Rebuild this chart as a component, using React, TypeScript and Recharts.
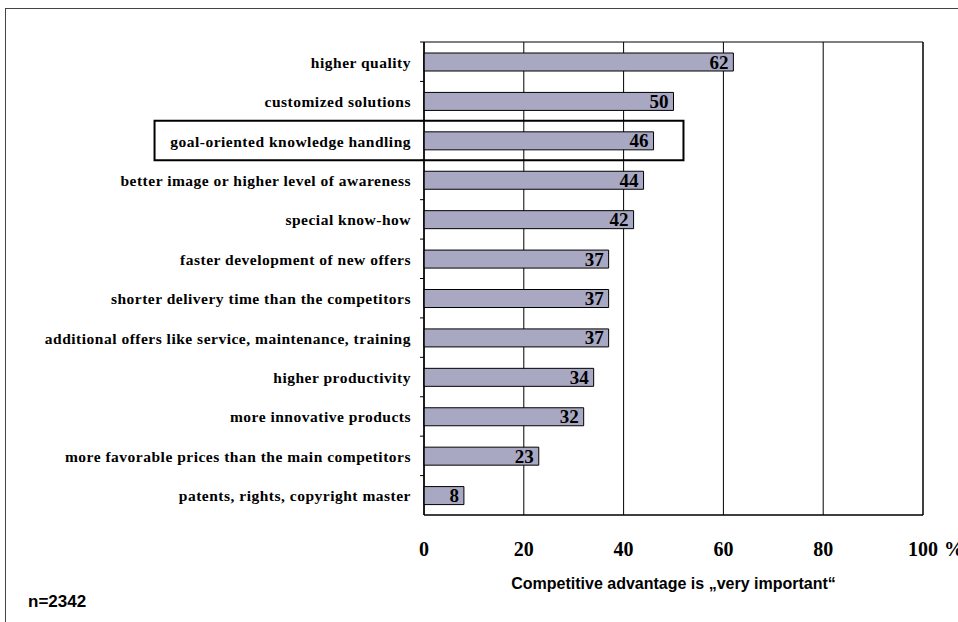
import React from 'react'
import {
  BarChart,
  Bar,
  XAxis,
  YAxis,
  CartesianGrid,
  LabelList,
  ReferenceArea,
  Label,
} from 'recharts'

const categories = [
  'higher quality',
  'customized solutions',
  'goal-oriented knowledge handling',
  'better image or higher level of awareness',
  'special know-how',
  'faster development of new offers',
  'shorter delivery time than the competitors',
  'additional offers like service, maintenance, training',
  'higher productivity',
  'more innovative products',
  'more favorable prices than the main competitors',
  'patents, rights, copyright master',
]

const veryImportant = [62, 50, 46, 44, 42, 37, 37, 37, 34, 32, 23, 8]

const xTicks = [0, 20, 40, 60, 80, 100]

const highlighted = 'goal-oriented knowledge handling'

const chartData = categories.map((name, i) => ({ name, value: veryImportant[i] }))

const SERIF = '"Liberation Serif", "Times New Roman", serif'
const SANS = '"Liberation Sans", Arial, sans-serif'
const LABEL_GAP = 13

function CategoryTick(props: any) {
  const { x, y, payload } = props
  const axisX = x + LABEL_GAP
  const half = payload.offset || 0
  return (
    <g>
      <line x1={axisX - 4} x2={axisX} y1={y - half} y2={y - half} stroke="#000" strokeWidth={1} />
      <text
        x={x}
        y={y}
        dy={6}
        textAnchor="end"
        fontFamily={SERIF}
        fontWeight="bold"
        fontSize={15.5}
        letterSpacing={0.5}
        fill="#000"
      >
        {payload.value}
      </text>
    </g>
  )
}

function PercentTick(props: any) {
  const { x, y, payload } = props
  return (
    <g>
      <text x={x} y={y} dy={14} textAnchor="middle" fontFamily={SERIF} fontWeight="bold" fontSize={20} fill="#000">
        {payload.value}
      </text>
      {payload.value === 100 && (
        <text x={x + 21} y={y} dy={14} textAnchor="start" fontFamily={SERIF} fontWeight="bold" fontSize={20} fill="#000">
          %
        </text>
      )}
    </g>
  )
}

function ValueLabel(props: any) {
  const { x, y, width, height, value } = props
  return (
    <text
      x={x + width - 5}
      y={y + height / 2}
      dy={6.5}
      textAnchor="end"
      fontFamily={SERIF}
      fontWeight="bold"
      fontSize={19}
      fill="#000"
    >
      {value}
    </text>
  )
}

export default function App() {
  return (
    <div style={{ position: 'absolute', left: 0, top: 0, width: 958, height: 622, background: '#fff' }}>
      <div
        style={{
          position: 'absolute',
          left: 5,
          top: 8,
          width: 953,
          height: 614,
          borderTop: '1px solid #444',
          borderLeft: '1px solid #444',
        }}
      />
      <BarChart
        width={958}
        height={622}
        data={chartData}
        layout="vertical"
        margin={{ top: 42, right: 35, bottom: 77, left: 0 }}
        barSize={18}
      >
        <CartesianGrid horizontal={false} vertical stroke="#000" strokeWidth={1} />
        <ReferenceArea x1={0} x2={100} fill="none" stroke="#000" strokeWidth={1} />
        <XAxis
          type="number"
          domain={[0, 100]}
          ticks={xTicks}
          tickLine={false}
          tickSize={0}
          tickMargin={27}
          height={30}
          axisLine={{ stroke: '#000' }}
          tick={<PercentTick />}
          interval={0}
        >
          <Label
            value="Competitive advantage is „very important“"
            position="bottom"
            offset={33}
            style={{ fontFamily: SANS, fontWeight: 'bold', fontSize: 16, fill: '#000' }}
          />
        </XAxis>
        <YAxis
          type="category"
          dataKey="name"
          width={424}
          tickLine={false}
          tickSize={0}
          tickMargin={LABEL_GAP}
          axisLine={{ stroke: '#000' }}
          tick={<CategoryTick />}
          interval={0}
        />
        <ReferenceArea
          y1={highlighted}
          y2={highlighted}
          x1={-54}
          x2={52}
          ifOverflow="visible"
          fill="none"
          stroke="#000"
          strokeWidth={2}
        />
        <Bar dataKey="value" fill="#A8A8C2" stroke="#000" strokeWidth={1} isAnimationActive={false}>
          <LabelList dataKey="value" content={<ValueLabel />} />
        </Bar>
      </BarChart>
      <div
        style={{
          position: 'absolute',
          left: 28,
          top: 592,
          fontFamily: SANS,
          fontWeight: 'bold',
          fontSize: 17,
          color: '#000',
        }}
      >
        n=2342
      </div>
    </div>
  )
}
